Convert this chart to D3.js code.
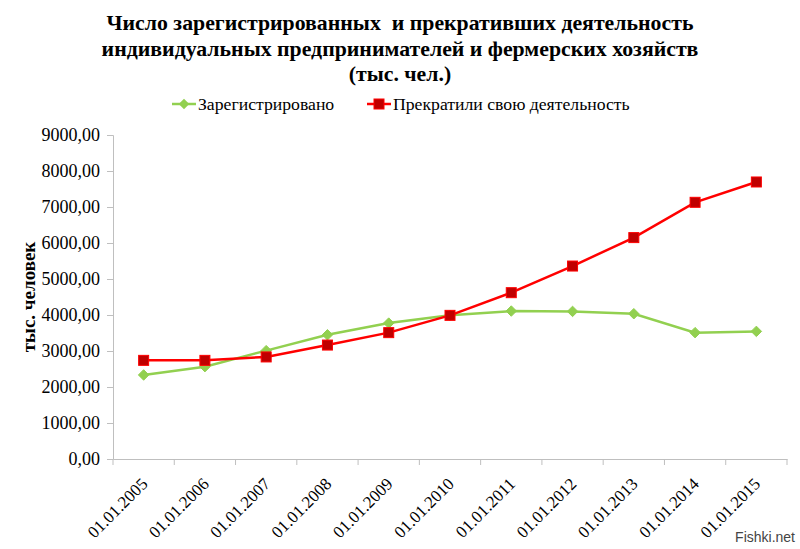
<!DOCTYPE html>
<html><head><meta charset="utf-8">
<script src="https://cdn.jsdelivr.net/npm/d3@7"></script>
<style>body{margin:0;background:#fff}svg{display:block}</style>
</head><body>
<svg id="c" width="800" height="549"></svg>
<script>
const categories = ["01.01.2005","01.01.2006","01.01.2007","01.01.2008","01.01.2009","01.01.2010","01.01.2011","01.01.2012","01.01.2013","01.01.2014","01.01.2015"];
const registered = [2335, 2565, 3010, 3450, 3775, 3990, 4110, 4100, 4035, 3510, 3545];
const ceased = [2740, 2740, 2835, 3165, 3510, 3990, 4620, 5360, 6150, 7130, 7695];
const yTicks = [0,1000,2000,3000,4000,5000,6000,7000,8000,9000];
const titleLines = ["Число зарегистрированных  и прекративших деятельность","индивидуальных предпринимателей и фермерских хозяйств","(тыс. чел.)"];
const seriesNames = ["Зарегистрировано","Прекратили свою деятельность"];

const svg = d3.select("#c");
const font = "'Liberation Serif','Times New Roman',serif";
const L=113, R=787, T=135, B=459;
const x = d3.scaleBand().domain(categories).range([L,R]);
const y = d3.scaleLinear().domain([0,9000]).range([B,T]);
const axisColor = "#bfbfbf";

// title
svg.append("g").selectAll("text").data(titleLines).join("text")
  .attr("x",400).attr("y",(d,i)=>30+i*25.5).attr("text-anchor","middle")
  .attr("font-family",font).attr("font-weight","bold").attr("font-size",21.8)
  .attr("fill","#000").style("white-space","pre").attr("xml:space","preserve").text(d=>d);

// y axis
const ya = svg.append("g").attr("transform",`translate(${L},0)`)
  .call(d3.axisLeft(y).tickValues(yTicks).tickSize(6).tickPadding(7)
    .tickFormat(d=>d3.format(".2f")(d).replace(".",",")));
ya.select(".domain").attr("stroke",axisColor);
ya.selectAll(".tick line").attr("stroke",axisColor);
ya.selectAll(".tick text").attr("font-family",font).attr("font-size",18).attr("fill","#000");

// x axis
const xa = svg.append("g").attr("transform",`translate(0,${B})`)
  .call(d3.axisBottom(x).tickSize(0).tickFormat(""));
xa.select(".domain").attr("stroke",axisColor);
const edges = categories.map(c=>x(c)).concat([R]);
xa.selectAll(".edge").data(edges).join("line").attr("class","edge")
  .attr("x1",d=>d).attr("x2",d=>d).attr("y1",0).attr("y2",6).attr("stroke",axisColor);
svg.append("g").selectAll("text").data(categories).join("text")
  .attr("transform",d=>`translate(${x(d)+x.bandwidth()/2+5},${B+26}) rotate(-45)`)
  .attr("text-anchor","end").attr("font-family",font).attr("font-size",17).attr("fill","#000")
  .text(d=>d);

// y title
svg.append("text").attr("transform","translate(35,297) rotate(-90)")
  .attr("text-anchor","middle").attr("font-family",font).attr("font-weight","bold")
  .attr("font-size",19).text("тыс. человек");

const cx = d=>x(d)+x.bandwidth()/2;
const line = d3.line().x((d,i)=>cx(categories[i])).y(d=>y(d));
const green="#92D050", red="#FF0000", darkRed="#C00000";

svg.append("path").datum(registered).attr("d",line).attr("fill","none").attr("stroke",green).attr("stroke-width",2.5);
svg.append("path").datum(ceased).attr("d",line).attr("fill","none").attr("stroke",red).attr("stroke-width",2.5);

const diamond = d3.symbol().type(d3.symbolDiamond2).size(70);
svg.append("g").selectAll("path").data(registered).join("path")
  .attr("d",diamond).attr("transform",(d,i)=>`translate(${cx(categories[i])},${y(d)})`)
  .attr("fill",green).attr("stroke",green).attr("stroke-width",1);
svg.append("g").selectAll("rect").data(ceased).join("rect")
  .attr("x",(d,i)=>cx(categories[i])-5).attr("y",d=>y(d)-5).attr("width",10).attr("height",10)
  .attr("fill",darkRed).attr("stroke",red).attr("stroke-width",1);

// legend
const lg = svg.append("g");
lg.append("line").attr("x1",172).attr("x2",196).attr("y1",104).attr("y2",104).attr("stroke",green).attr("stroke-width",2.5);
lg.append("path").attr("d",diamond).attr("transform","translate(184,104)").attr("fill",green);
lg.append("text").attr("x",198).attr("y",110).attr("font-family",font).attr("font-size",17.7).text(seriesNames[0]);
lg.append("line").attr("x1",367).attr("x2",391).attr("y1",104).attr("y2",104).attr("stroke",red).attr("stroke-width",2.5);
lg.append("rect").attr("x",374).attr("y",99).attr("width",10).attr("height",10).attr("fill",darkRed).attr("stroke",red);
lg.append("text").attr("x",393).attr("y",110).attr("font-family",font).attr("font-size",17.7).text(seriesNames[1]);

// watermark
svg.append("text").attr("x",795).attr("y",542).attr("text-anchor","end")
  .attr("font-family","'Liberation Sans',Arial,sans-serif").attr("font-size",14).attr("fill","#444").text("Fishki.net");
</script>
</body></html>
